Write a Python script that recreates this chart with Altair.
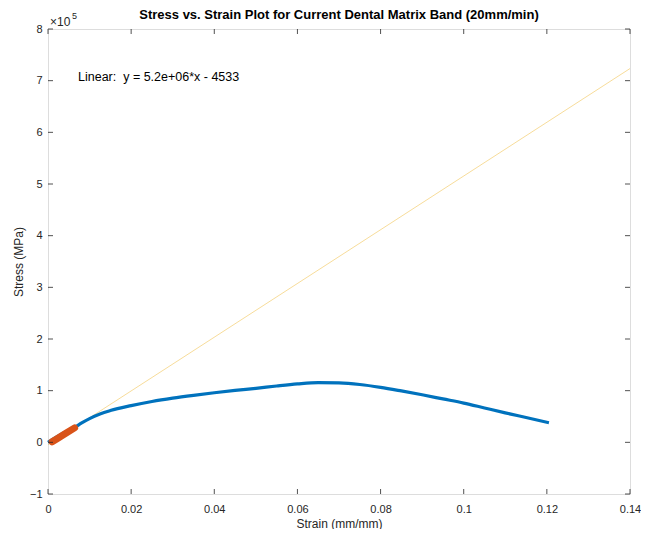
import altair as alt
import pandas as pd

# Blue: full stress-strain curve
strain = [0.0, 0.002, 0.004, 0.0065, 0.008, 0.010, 0.0125, 0.015, 0.020, 0.025, 0.030,
          0.035, 0.040, 0.045, 0.050, 0.055, 0.060, 0.065, 0.070, 0.075, 0.080,
          0.085, 0.090, 0.095, 0.100, 0.105, 0.110, 0.115, 0.1205]
stress = [0, 10000, 19000, 29000, 37000, 46000, 55000, 61500, 71000, 79000, 85500,
          91000, 96000, 100500, 104500, 109000, 113000, 115500, 115000, 112000, 106500,
          99500, 92000, 84000, 76000, 66500, 57000, 48000, 38000]

# Orange: linear region used for the fit
lin_strain = [0.001, 0.002, 0.004, 0.0064]
lin_stress = [1000, 6000, 16000, 28000]

# Yellow: fitted line y = 5.2e6*x - 4533
fit_strain = [0.0, 0.14]
fit_stress = [-4533, 723467]

x_ticks = [0, 0.02, 0.04, 0.06, 0.08, 0.1, 0.12, 0.14]
y_ticks = [-100000, 0, 100000, 200000, 300000, 400000, 500000, 600000, 700000, 800000]

title_text = "Stress vs. Strain Plot for Current Dental Matrix Band (20mm/min)"
fit_label = "Linear:\u00a0 y = 5.2e+06*x - 4533"

W, H = 582, 465
AX = "#262626"
FONT = "Liberation Sans"

df_main = pd.DataFrame({"x": strain, "y": stress})
df_lin = pd.DataFrame({"x": lin_strain, "y": lin_stress})
df_fit = pd.DataFrame({"x": fit_strain, "y": fit_stress})
df_xt = pd.DataFrame({"x": x_ticks})
df_yt = pd.DataFrame({"y": y_ticks})

xs = alt.Scale(domain=[0, 0.14], nice=False, zero=False)
ys = alt.Scale(domain=[-100000, 800000], nice=False, zero=False)

xaxis = alt.Axis(values=x_ticks, format="~g", title="Strain (mm/mm)", grid=False,
                 ticks=False, domain=False, labelPadding=9, labelFontSize=11,
                 labelFlush=False, labelColor=AX, titleFontSize=12,
                 titleFontWeight="normal", titleColor=AX, titlePadding=4,
                 labelFont=FONT, titleFont=FONT)
yaxis = alt.Axis(values=y_ticks, labelExpr="format(datum.value/100000, 'd')",
                 title="Stress (MPa)", grid=False, ticks=False, domain=False,
                 labelPadding=6, labelFontSize=11, labelFlush=False, labelColor=AX,
                 titleFontSize=12, titleFontWeight="normal", titleColor=AX,
                 titlePadding=4, labelFont=FONT, titleFont=FONT)

fit = alt.Chart(df_fit).mark_line(color="#EDB120", strokeWidth=1, opacity=0.45).encode(
    x=alt.X("x:Q", scale=xs, axis=xaxis),
    y=alt.Y("y:Q", scale=ys, axis=yaxis),
)
main = alt.Chart(df_main).mark_line(color="#0072BD", strokeWidth=3.2, interpolate="monotone").encode(
    x=alt.X("x:Q", scale=xs), y=alt.Y("y:Q", scale=ys))
lin = alt.Chart(df_lin).mark_line(color="#D95319", strokeWidth=7, strokeCap="round").encode(
    x=alt.X("x:Q", scale=xs), y=alt.Y("y:Q", scale=ys))

tk = dict(color=AX, strokeWidth=0.8)
xt_bot = alt.Chart(df_xt).mark_rule(**tk).encode(
    x=alt.X("x:Q", scale=xs), y=alt.value(H), y2=alt.value(H - 5))
xt_top = alt.Chart(df_xt).mark_rule(**tk).encode(
    x=alt.X("x:Q", scale=xs), y=alt.value(0), y2=alt.value(5))
yt_l = alt.Chart(df_yt).mark_rule(**tk).encode(
    y=alt.Y("y:Q", scale=ys), x=alt.value(0), x2=alt.value(5))
yt_r = alt.Chart(df_yt).mark_rule(**tk).encode(
    y=alt.Y("y:Q", scale=ys), x=alt.value(W), x2=alt.value(W - 5))

ann = alt.Chart(pd.DataFrame({"t": [fit_label]})).mark_text(
    align="left", baseline="middle", fontSize=12.5, font=FONT, color="#000000"
).encode(text="t:N", x=alt.value(30), y=alt.value(48))

mult = alt.Chart(pd.DataFrame({"t": ["×10"]})).mark_text(
    align="left", baseline="middle", fontSize=12, font=FONT, color=AX
).encode(text="t:N", x=alt.value(2), y=alt.value(-7))
mult_exp = alt.Chart(pd.DataFrame({"t": ["5"]})).mark_text(
    align="left", baseline="middle", fontSize=9, font=FONT, color=AX
).encode(text="t:N", x=alt.value(24), y=alt.value(-13))

ttl = alt.Chart(pd.DataFrame({"t": [title_text]})).mark_text(
    align="center", baseline="middle", fontSize=13, font=FONT, fontWeight="bold",
    color="#000000"
).encode(text="t:N", x=alt.value(W / 2), y=alt.value(-14))

chart = alt.layer(fit, main, lin, xt_bot, xt_top, yt_l, yt_r, ann, mult, mult_exp, ttl).properties(
    width=W, height=H,
    autosize=alt.AutoSizeParams(type="none"),
    padding={"left": 40, "top": 21, "right": 11, "bottom": 35},
).configure_view(stroke=AX, strokeWidth=0.8).configure(background="white")

chart.save("out.html", embed_options={"renderer": "svg", "actions": False})
